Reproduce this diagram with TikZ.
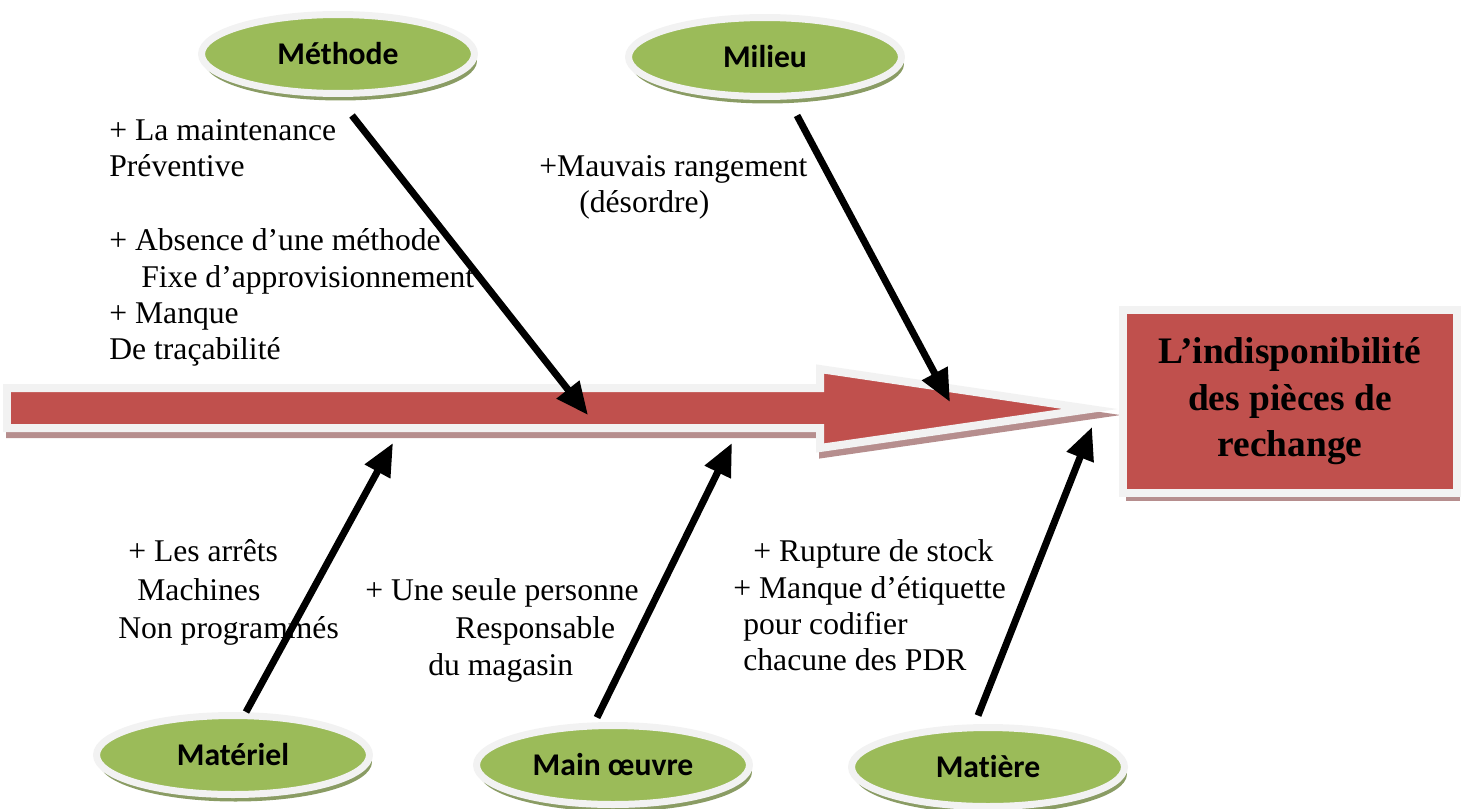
\documentclass[tikz,border=0pt]{standalone}
\usepackage{fontspec}
\setmainfont{Liberation Serif}
\newfontfamily\calib[Ligatures=NoCommon]{Carlito}
\usetikzlibrary{arrows.meta,shapes.geometric,shadows}

\definecolor{fishred}{RGB}{192,80,77}
\definecolor{leafgreen}{RGB}{155,187,89}
\definecolor{rimgray}{RGB}{242,242,242}
\definecolor{greenshadow}{RGB}{138,156,100}
\definecolor{redshadow}{RGB}{182,142,142}

\begin{document}
\begin{tikzpicture}[x=0.02cm,y=-0.02cm,
    family node/.style={ellipse,fill=leafgreen,draw=rimgray,line width=0.14cm,
      minimum width=5.46cm,minimum height=1.58cm,inner sep=0pt,
      font=\calib\bfseries\fontsize{18}{20}\selectfont,
      drop shadow={shadow xshift=0.05cm,shadow yshift=-0.14cm,fill=greenshadow,opacity=1}},
    effect box/.style={rectangle,fill=fishred,draw=rimgray,line width=0.16cm,
      minimum width=6.68cm,minimum height=3.66cm,align=center,
      font=\bfseries\fontsize{21.3}{26.5}\selectfont,
      drop shadow={shadow xshift=0.06cm,shadow yshift=-0.16cm,fill=redshadow,opacity=1}},
    cause text/.style={anchor=base west,inner sep=0pt,font=\fontsize{18}{20}\selectfont},
    cause/.style={line width=0.14cm,-{Triangle[length=0.65cm,width=0.55cm]}}]

  \useasboundingbox (0,0) rectangle (1462,808);

  % the fish bone
  \path[fill=redshadow,draw=redshadow,line width=0.16cm,line join=miter]
    (10,394) -- (823,394) -- (823,375) -- (1093,415) -- (823,454) -- (823,434) -- (10,434) -- cycle;
  \path[fill=fishred,draw=rimgray,line width=0.16cm,line join=miter]
    (7,388) -- (820,388) -- (820,369) -- (1090,409) -- (820,448) -- (820,428) -- (7,428) -- cycle;

  \node[effect box] (effet) at (1290,401.5) {L’indisponibilité\\des pièces de\\rechange};

  % the 5 M
  \node[family node] (methode) at (338,54) {Méthode};
  \node[family node] (milieu) at (765,57) {Milieu};
  \node[family node] (materiel) at (233,755) {Matériel};
  \node[family node] (mainoeuvre) at (613,765) {Main œuvre};
  \node[family node] (matiere) at (988,767) {Matière};

  \coordinate (onMethode) at (588,415);
  \coordinate (onMilieu) at (950,402);
  \coordinate (onMateriel) at (393,443);
  \coordinate (onMainoeuvre) at (732,443);
  \coordinate (onMatiere) at (1092,427);

  % causes
  \node[cause text] (m1) at (109,140) {+ La maintenance};
  \node[cause text] (m2) at (109,176) {Préventive};
  \node[cause text] (m3) at (109,250) {+ Absence d’une méthode};
  \node[cause text] (m4) at (141,287) {Fixe d’approvisionnement};
  \node[cause text] (m5) at (109,323) {+ Manque};
  \node[cause text] (m6) at (109,359) {De traçabilité};

  \node[cause text] (e1) at (539,176) {+Mauvais rangement};
  \node[cause text] (e2) at (579,212) {(désordre)};

  \node[cause text] (t1) at (128,561) {+ Les arrêts};
  \node[cause text] (t2) at (137,600) {Machines};
  \node[cause text] (t3) at (118,638) {Non programmés};

  \node[cause text] (o1) at (365,600) {+ Une seule personne};
  \node[cause text] (o2) at (455,638) {Responsable};
  \node[cause text] (o3) at (428,675) {du magasin};

  \node[cause text] (p1) at (753,561) {+ Rupture de stock};
  \node[cause text] (p2) at (733,598) {+ Manque d’étiquette};
  \node[cause text] (p3) at (743,634) {pour codifier};
  \node[cause text] (p4) at (743,670) {chacune des PDR};

  \draw[cause] ([shift={(14,18.5)}]methode.south) -- (onMethode);
  \draw[cause] ([shift={(32,15.5)}]milieu.south) -- (onMilieu);
  \draw[cause] ([shift={(13,0)}]materiel.north) -- (onMateriel);
  \draw[cause] ([shift={(-16,-4.5)}]mainoeuvre.north) -- (onMainoeuvre);
  \draw[cause] ([shift={(-10,-8.5)}]matiere.north) -- (onMatiere);
\end{tikzpicture}
\end{document}
